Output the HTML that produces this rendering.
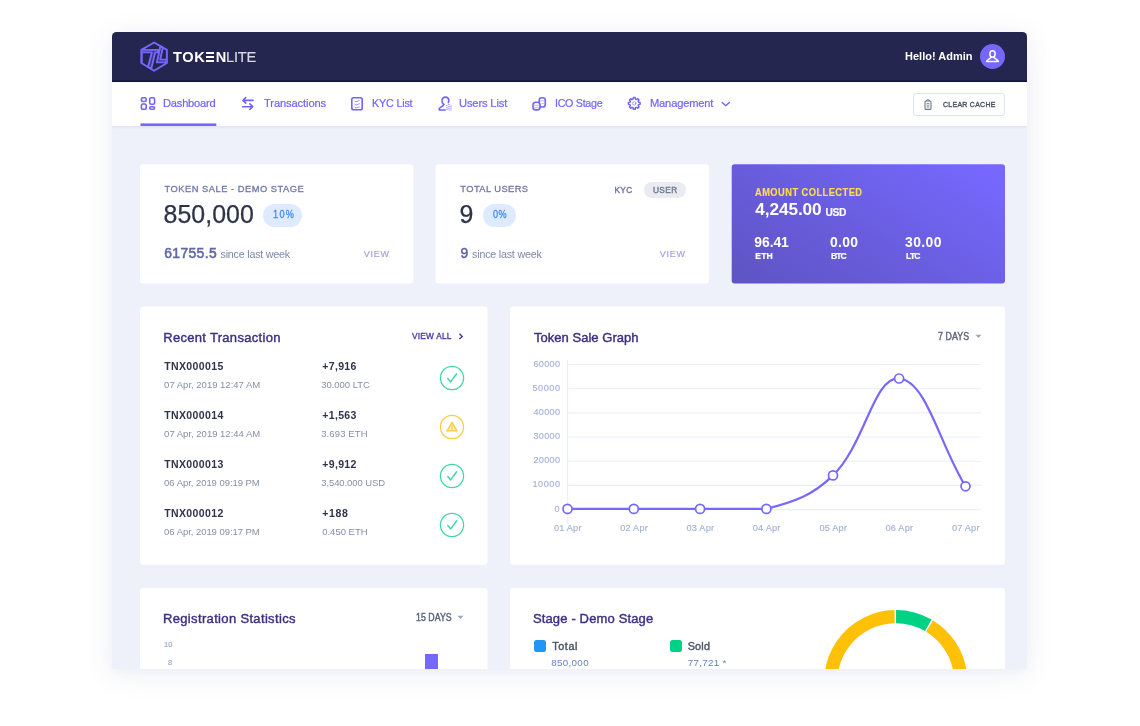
<!DOCTYPE html>
<html lang="en"><head><meta charset="utf-8"><title>TokenLite Admin Dashboard</title>
<style>
html,body{margin:0;padding:0;}
body{width:1140px;height:726px;background:#fff;position:relative;overflow:hidden;font-family:"Liberation Sans", Arial, sans-serif;}
.app{position:absolute;left:112px;top:32px;width:914.5px;height:637px;border-radius:4.5px 4.5px 0 0;background:#eef1fa;overflow:hidden;}
.shadow{position:absolute;left:112px;top:32px;width:914.5px;height:637px;border-radius:4px 4px 0 0;box-shadow:0 5px 28px rgba(70,80,150,.10),0 1px 8px rgba(70,80,150,.03);}
.in{filter:blur(.35px);position:absolute;left:-112px;top:-32px;width:1140px;height:726px;}
.t{position:absolute;white-space:nowrap;}
.e3{position:relative;color:transparent;}
.e3:after{content:"";position:absolute;left:1.1px;top:2.6px;width:7.6px;height:10.5px;background:linear-gradient(to bottom,#fff 0,#fff 2.3px,transparent 2.3px,transparent 4.1px,#fff 4.1px,#fff 6.4px,transparent 6.4px,transparent 8.2px,#fff 8.2px,#fff 10.5px);}
</style></head>
<body>
<div class="shadow"></div>
<div class="app"><div class="in">
<header><div style="position:absolute;left:112px;top:32px;width:915px;height:50px;background:linear-gradient(to bottom,#25264f 48px,#1c1d47 48px,#1c1d47 49px,#121338 49px);"></div><svg style="position:absolute;left:138px;top:39px" width="32" height="35" viewBox="138 39 32 35" fill="none" stroke="#7668fe" stroke-width="1.9" stroke-linejoin="round">
<path d="M154.1 42.5 L166.9 49.8 L166.9 63 L154.1 70.7 L141.3 63 L141.3 49.8 Z"/><path d="M142.6 52.3 V62.6" stroke-width="1" opacity=".7"/>
<path d="M141.6 49.9 H158.4 L157.8 52.4 H155.2 L151.3 68.6 L148 66.8 L151.9 52.4 H141.6" fill="rgba(118,104,254,.28)"/>
<path d="M160.4 46.2 L162.9 47.6 L160.2 59.6 H166.6 L166.2 62.4 H156.8 Z" fill="rgba(118,104,254,.2)"/>
</svg><span class="t" style="left:173.0px;top:48px;font-size:14.6px;line-height:18px;font-weight:700;letter-spacing:0.60px;color:#fff;">TOK<span class="e3">E</span>N</span><span class="t" style="left:226.0px;top:48px;font-size:14.6px;line-height:18px;font-weight:400;letter-spacing:-0.20px;-webkit-text-stroke:0.2px;color:#d6d8e4;">LITE</span><span class="t" style="left:905.0px;top:49px;font-size:11.8px;line-height:15px;font-weight:700;letter-spacing:0.02px;transform:scaleX(0.93);transform-origin:0 0;color:#fff;">Hello! Admin</span><div style="position:absolute;left:979.6px;top:43.9px;width:25.4px;height:25.4px;background:#7668fe;border-radius:50%;"></div><svg style="position:absolute;left:985px;top:49px" width="15" height="15" viewBox="0 0 15 15" fill="none" stroke="#fff" stroke-width="1.5" stroke-linecap="round" stroke-linejoin="round"><ellipse cx="7.5" cy="5" rx="2.6" ry="3.2"/><path d="M1.6 12.4 C2.6 10.4 4.6 9.6 6 8.6 M13.4 12.4 C12.4 10.4 10.4 9.6 9 8.6 M1.6 12.4 H13.4"/></svg></header>
<nav><div style="position:absolute;left:112px;top:82px;width:915px;height:44px;background:#fff;box-shadow:0 1px 2.5px rgba(90,100,150,.13);"></div><span class="t" style="left:163.1px;top:96px;font-size:11.6px;line-height:14px;font-weight:400;letter-spacing:-0.23px;-webkit-text-stroke:0.22px;transform:scaleX(0.96);transform-origin:0 0;color:#7163fb;">Dashboard</span><span class="t" style="left:263.6px;top:96px;font-size:11.6px;line-height:14px;font-weight:400;letter-spacing:-0.11px;-webkit-text-stroke:0.22px;transform:scaleX(0.96);transform-origin:0 0;color:#7163fb;">Transactions</span><span class="t" style="left:371.8px;top:96px;font-size:11.6px;line-height:14px;font-weight:400;letter-spacing:-0.21px;-webkit-text-stroke:0.22px;transform:scaleX(0.93);transform-origin:0 0;color:#7163fb;">KYC List</span><span class="t" style="left:459.4px;top:96px;font-size:11.6px;line-height:14px;font-weight:400;letter-spacing:-0.14px;-webkit-text-stroke:0.22px;transform:scaleX(0.96);transform-origin:0 0;color:#7163fb;">Users List</span><span class="t" style="left:554.7px;top:96px;font-size:11.6px;line-height:14px;font-weight:400;letter-spacing:-0.30px;-webkit-text-stroke:0.22px;transform:scaleX(0.92);transform-origin:0 0;color:#7163fb;">ICO Stage</span><span class="t" style="left:649.5px;top:96px;font-size:11.6px;line-height:14px;font-weight:400;letter-spacing:-0.18px;-webkit-text-stroke:0.22px;transform:scaleX(0.96);transform-origin:0 0;color:#7163fb;">Management</span><svg style="position:absolute;left:139px;top:95px" width="18" height="17" viewBox="139 95 18 17" fill="none" stroke="#7163fb" stroke-linecap="round" stroke-linejoin="round" stroke-width="1.6">
<rect x="141.4" y="97.7" width="4.8" height="3.8" rx="1.4"/><rect x="149.7" y="97.7" width="4.9" height="6.5" rx="1.4"/>
<rect x="141.4" y="104" width="4.8" height="5.3" rx="1.4"/><rect x="149.7" y="106.7" width="4.9" height="2.6" rx="1.2"/></svg><svg style="position:absolute;left:240px;top:95px" width="16" height="17" viewBox="240 95 16 17" fill="none" stroke="#7163fb" stroke-linecap="round" stroke-linejoin="round" stroke-width="1.6">
<path d="M253 100.4 H243 M245.8 97.6 L242.9 100.4 L245.8 103.2"/><path d="M242.6 106.7 H252.6 M249.8 103.9 L252.7 106.7 L249.8 109.5"/></svg><svg style="position:absolute;left:349px;top:95px" width="16" height="17" viewBox="349 95 16 17" fill="none" stroke="#7163fb" stroke-linecap="round" stroke-linejoin="round" stroke-width="1.6">
<rect x="351.8" y="97.7" width="10.4" height="12" rx="1.8"/><path d="M355 101.2 L356 101.8 L359.2 100.6 M355 104.4 L356 105 L359.2 103.8 M355 107.4 L356 108 L359.2 106.8" stroke-width="0.9" opacity=".8"/></svg><svg style="position:absolute;left:436px;top:94px" width="18" height="19" viewBox="436 94 18 19" fill="none" stroke="#7163fb" stroke-linecap="round" stroke-linejoin="round" stroke-width="1.6">
<path d="M443.8 104.4 C442.3 103.4 441.8 101.8 442 100.2 C442.3 98.2 443.7 97.1 445.5 97.1 C447.3 97.1 448.6 98.3 448.8 100.1 C448.9 101.1 448.7 101.9 448.3 102.6"/>
<path d="M443.8 104.4 C443 106.4 440.4 107 439.3 108.6 C438.9 109.4 439.2 110 440 110 H445.2"/>
<path d="M447 105 V110.6 M449 104 V110.6 M451 105.6 V110.6" stroke-width="1.3" stroke-dasharray="1.1 0.8" stroke-linecap="butt" opacity=".75"/></svg><svg style="position:absolute;left:530px;top:94px" width="18" height="19" viewBox="530 94 18 19" fill="none" stroke="#7163fb" stroke-linecap="round" stroke-linejoin="round" stroke-width="1.6">
<rect x="539.2" y="97.7" width="6.1" height="9.3" rx="2.6" fill="#fff"/><path d="M540.4 100.9 H544.2 M541.6 103.6 H544.2" stroke-width="0.8" opacity=".55"/>
<rect x="533" y="102.3" width="7" height="7.6" rx="2.7" fill="#fff"/><path d="M534.4 105.4 H538.6 M534.4 107.6 H538.6" stroke-width="0.8" opacity=".55"/></svg><svg style="position:absolute;left:626px;top:95px" width="17" height="17" viewBox="626 95 17 17" fill="none" stroke="#7163fb" stroke-linecap="round" stroke-linejoin="round" stroke-width="1.5">
<path d="M633.33 97.62 L635.17 97.62 L635.44 99.11 L636.48 99.54 L637.72 98.68 L639.02 99.98 L638.16 101.22 L638.59 102.26 L640.08 102.53 L640.08 104.37 L638.59 104.64 L638.16 105.68 L639.02 106.92 L637.72 108.22 L636.48 107.36 L635.44 107.79 L635.17 109.28 L633.33 109.28 L633.06 107.79 L632.02 107.36 L630.78 108.22 L629.48 106.92 L630.34 105.68 L629.91 104.64 L628.42 104.37 L628.42 102.53 L629.91 102.26 L630.34 101.22 L629.48 99.98 L630.78 98.68 L632.02 99.54 L633.06 99.11 Z"/><circle cx="634.25" cy="103.45" r="1.7" stroke-width="0.9" opacity=".7"/></svg><svg style="position:absolute;left:720px;top:100px" width="12" height="8" viewBox="720 100 12 8" fill="none" stroke="#7163fb" stroke-linecap="round" stroke-linejoin="round" stroke-width="1.35"><path d="M722.2 102.4 L725.8 105.8 L729.4 102.4"/></svg><div style="position:absolute;left:912.6px;top:93px;width:92px;height:23px;border:1px solid #dbe4f3;border-radius:3px;box-sizing:border-box;background:#fff;"></div><svg style="position:absolute;left:922px;top:98px" width="12" height="13" viewBox="922 98 12 13" fill="none" stroke="#6d7687" stroke-width="1.1" stroke-linejoin="round"><rect x="925" y="101" width="6" height="8.4" rx="1"/><path d="M926.6 101 V99.9 H929.4 V101 M926.6 103.4 H929.4 M926.6 105.2 H929.4 M926.6 107 H929.4" stroke-width="0.9"/></svg><span class="t" style="left:942.5px;top:100px;font-size:8.1px;line-height:10px;font-weight:400;letter-spacing:0.33px;-webkit-text-stroke:0.4px;transform:scaleX(0.86);transform-origin:0 0;color:#495463;">CLEAR CACHE</span></nav>
<main>
<svg style="position:absolute;left:0;top:0" width="1140" height="726" viewBox="0 0 1140 726"><defs><linearGradient id="ag" x1="0" y1=".85" x2="1" y2=".15"><stop offset="0" stop-color="#6055c6"/><stop offset=".5" stop-color="#6a5ee1"/><stop offset="1" stop-color="#7668fe"/></linearGradient></defs><rect x="140" y="164.3" width="273.50" height="119.10" rx="3" fill="#fff"/><rect x="435.6" y="164.3" width="273.60" height="119.10" rx="3" fill="#fff"/><rect x="731.7" y="164.3" width="273.30" height="119.10" rx="3" fill="url(#ag)"/><rect x="140" y="306.5" width="347.50" height="258.30" rx="3" fill="#fff"/><rect x="510" y="306.5" width="495.00" height="258.30" rx="3" fill="#fff"/><rect x="140" y="587.9" width="347.50" height="112.10" rx="3" fill="#fff"/><rect x="510" y="587.9" width="495.00" height="112.10" rx="3" fill="#fff"/><rect x="140.5" y="123.4" width="75.8" height="2.6" fill="#7668fe"/></svg>
<section><span class="t" style="left:164.6px;top:183px;font-size:9.3px;line-height:12px;font-weight:400;letter-spacing:0.51px;-webkit-text-stroke:0.3px;color:#6e78a5;">TOKEN SALE - DEMO STAGE</span><span class="t" style="left:163.6px;top:199px;font-size:24.9px;line-height:31px;font-weight:400;letter-spacing:0.03px;-webkit-text-stroke:0.25px;color:#2c3447;">850,000</span><div style="position:absolute;left:263.3px;top:203.7px;width:39.1px;height:23px;background:#deebff;border-radius:12px;"></div><span class="t" style="left:272.8px;top:208px;font-size:10.4px;line-height:13px;font-weight:400;letter-spacing:1.48px;-webkit-text-stroke:0.3px;transform:scaleX(0.88);transform-origin:0 0;color:#438cf4;">10%</span><span class="t" style="left:164.2px;top:245px;font-size:13.9px;line-height:17px;font-weight:400;letter-spacing:0.37px;-webkit-text-stroke:0.55px;color:#5f69a0;">61755.5</span><span class="t" style="left:220.5px;top:248px;font-size:10.7px;line-height:13px;font-weight:400;letter-spacing:-0.20px;color:#7d87a8;">since last week</span><span class="t" style="left:363.8px;top:249px;font-size:9.0px;line-height:11px;font-weight:400;letter-spacing:0.73px;-webkit-text-stroke:0.15px;color:#a69cdf;">VIEW</span><span class="t" style="left:460.3px;top:183px;font-size:9.3px;line-height:12px;font-weight:400;letter-spacing:0.44px;-webkit-text-stroke:0.3px;color:#6e78a5;">TOTAL USERS</span><span class="t" style="left:614.4px;top:185px;font-size:8.3px;line-height:10px;font-weight:400;letter-spacing:0.40px;-webkit-text-stroke:0.4px;color:#6e78a5;">KYC</span><div style="position:absolute;left:644px;top:181.6px;width:41.5px;height:16px;background:#e9ebf1;border-radius:9px;"></div><span class="t" style="left:652.9px;top:185px;font-size:8.3px;line-height:10px;font-weight:400;letter-spacing:0.47px;-webkit-text-stroke:0.4px;color:#6f7b90;">USER</span><span class="t" style="left:459.6px;top:199px;font-size:24.9px;line-height:31px;font-weight:400;-webkit-text-stroke:0.25px;color:#2c3447;">9</span><div style="position:absolute;left:483px;top:203.7px;width:32.6px;height:23px;background:#deebff;border-radius:12px;"></div><span class="t" style="left:492.5px;top:208px;font-size:10.4px;line-height:13px;font-weight:400;letter-spacing:0.46px;-webkit-text-stroke:0.3px;transform:scaleX(0.88);transform-origin:0 0;color:#438cf4;">0%</span><span class="t" style="left:460.4px;top:245px;font-size:13.9px;line-height:17px;font-weight:400;-webkit-text-stroke:0.55px;color:#5f69a0;">9</span><span class="t" style="left:472.1px;top:248px;font-size:10.7px;line-height:13px;font-weight:400;letter-spacing:-0.20px;color:#7d87a8;">since last week</span><span class="t" style="left:659.7px;top:249px;font-size:9.0px;line-height:11px;font-weight:400;letter-spacing:0.73px;-webkit-text-stroke:0.15px;color:#a69cdf;">VIEW</span><span class="t" style="left:755.3px;top:186px;font-size:10.3px;line-height:13px;font-weight:700;letter-spacing:0.53px;-webkit-text-stroke:0.2px;transform:scaleX(0.9);transform-origin:0 0;color:#ffdc4e;">AMOUNT COLLECTED</span><span class="t" style="left:755.3px;top:198px;font-size:17.2px;line-height:22px;font-weight:700;letter-spacing:-0.08px;color:#fff;">4,245.00</span><span class="t" style="left:825.4px;top:206px;font-size:10.2px;line-height:13px;font-weight:700;letter-spacing:-0.30px;-webkit-text-stroke:0.2px;color:#fff;">USD</span><span class="t" style="left:754.3px;top:234px;font-size:13.9px;line-height:17px;font-weight:700;letter-spacing:-0.06px;color:#fff;">96.41</span><span class="t" style="left:755.3px;top:251px;font-size:8.6px;line-height:11px;font-weight:700;letter-spacing:0.10px;-webkit-text-stroke:0.2px;color:#fff;">ETH</span><span class="t" style="left:830.0px;top:234px;font-size:13.9px;line-height:17px;font-weight:700;letter-spacing:0.33px;color:#fff;">0.00</span><span class="t" style="left:831.0px;top:251px;font-size:8.6px;line-height:11px;font-weight:700;letter-spacing:-1.00px;-webkit-text-stroke:0.2px;color:#fff;">BTC</span><span class="t" style="left:905.1px;top:234px;font-size:13.9px;line-height:17px;font-weight:700;letter-spacing:0.39px;color:#fff;">30.00</span><span class="t" style="left:906.1px;top:251px;font-size:8.6px;line-height:11px;font-weight:700;letter-spacing:-0.80px;-webkit-text-stroke:0.2px;color:#fff;">LTC</span></section>
<section><span class="t" style="left:163.2px;top:330px;font-size:13px;line-height:16px;font-weight:400;letter-spacing:0.31px;-webkit-text-stroke:0.42px;color:#3a3182;">Recent Transaction</span><span class="t" style="left:412.0px;top:330px;font-size:9.2px;line-height:12px;font-weight:400;letter-spacing:0.28px;-webkit-text-stroke:0.4px;transform:scaleX(0.9);transform-origin:0 0;color:#4a3fa8;">VIEW ALL</span><svg style="position:absolute;left:457px;top:332px" width="8" height="9" viewBox="457 332 8 9" fill="none" stroke="#4338a2" stroke-width="1.4"><path d="M459.4 333.8 L462.2 336.4 L459.4 339"/></svg><span class="t" style="left:164.2px;top:360px;font-size:10.5px;line-height:13px;font-weight:700;letter-spacing:0.38px;color:#2d344b;">TNX000015</span><span class="t" style="left:164.1px;top:379px;font-size:9.5px;line-height:12px;font-weight:400;color:#8291a5;">07 Apr, 2019 12:47 AM</span><span class="t" style="left:322.2px;top:360px;font-size:10.5px;line-height:13px;font-weight:700;letter-spacing:0.36px;color:#2d344b;">+7,916</span><span class="t" style="left:321.2px;top:379px;font-size:9.5px;line-height:12px;font-weight:400;letter-spacing:-0.03px;color:#8291a5;">30.000 LTC</span><svg style="position:absolute;left:438.75px;top:364.8px" width="26" height="26" viewBox="-13 -13 26 26" fill="none" stroke="#3ed8a4" stroke-width="1.25" stroke-linecap="round" stroke-linejoin="round"><circle r="11.6"/><path d="M-4.2 0.6 L-1.3 3.9 L4.6 -4.2" stroke-width="1.5"/></svg><span class="t" style="left:164.2px;top:409px;font-size:10.5px;line-height:13px;font-weight:700;letter-spacing:0.38px;color:#2d344b;">TNX000014</span><span class="t" style="left:164.1px;top:428px;font-size:9.5px;line-height:12px;font-weight:400;color:#8291a5;">07 Apr, 2019 12:44 AM</span><span class="t" style="left:322.2px;top:409px;font-size:10.5px;line-height:13px;font-weight:700;letter-spacing:0.36px;color:#2d344b;">+1,563</span><span class="t" style="left:321.2px;top:428px;font-size:9.5px;line-height:12px;font-weight:400;letter-spacing:0.12px;color:#8291a5;">3.693 ETH</span><svg style="position:absolute;left:438.75px;top:413.8px" width="26" height="26" viewBox="-13 -13 26 26" fill="none" stroke="#ffc93a" stroke-width="1.2" stroke-linecap="round" stroke-linejoin="round"><circle r="11.6"/><path d="M0 -4.6 L5 3.9 H-5 Z" stroke-width="1.3" fill="rgba(255,201,58,.25)"/><path d="M0 -1.6 V1.4 M0 2.6 V2.7" stroke-width="1.2"/></svg><span class="t" style="left:164.2px;top:458px;font-size:10.5px;line-height:13px;font-weight:700;letter-spacing:0.38px;color:#2d344b;">TNX000013</span><span class="t" style="left:164.1px;top:477px;font-size:9.5px;line-height:12px;font-weight:400;letter-spacing:-0.05px;color:#8291a5;">06 Apr, 2019 09:19 PM</span><span class="t" style="left:322.2px;top:458px;font-size:10.5px;line-height:13px;font-weight:700;letter-spacing:0.36px;color:#2d344b;">+9,912</span><span class="t" style="left:321.2px;top:477px;font-size:9.5px;line-height:12px;font-weight:400;letter-spacing:-0.08px;color:#8291a5;">3,540.000 USD</span><svg style="position:absolute;left:438.75px;top:462.8px" width="26" height="26" viewBox="-13 -13 26 26" fill="none" stroke="#3ed8a4" stroke-width="1.25" stroke-linecap="round" stroke-linejoin="round"><circle r="11.6"/><path d="M-4.2 0.6 L-1.3 3.9 L4.6 -4.2" stroke-width="1.5"/></svg><span class="t" style="left:164.2px;top:507px;font-size:10.5px;line-height:13px;font-weight:700;letter-spacing:0.38px;color:#2d344b;">TNX000012</span><span class="t" style="left:164.1px;top:526px;font-size:9.5px;line-height:12px;font-weight:400;letter-spacing:-0.05px;color:#8291a5;">06 Apr, 2019 09:17 PM</span><span class="t" style="left:322.2px;top:507px;font-size:10.5px;line-height:13px;font-weight:700;letter-spacing:0.67px;color:#2d344b;">+188</span><span class="t" style="left:322.2px;top:526px;font-size:9.5px;line-height:12px;font-weight:400;color:#8291a5;">0.450 ETH</span><svg style="position:absolute;left:438.75px;top:511.79999999999995px" width="26" height="26" viewBox="-13 -13 26 26" fill="none" stroke="#3ed8a4" stroke-width="1.25" stroke-linecap="round" stroke-linejoin="round"><circle r="11.6"/><path d="M-4.2 0.6 L-1.3 3.9 L4.6 -4.2" stroke-width="1.5"/></svg><span class="t" style="left:533.9px;top:330px;font-size:13px;line-height:16px;font-weight:400;letter-spacing:0.04px;-webkit-text-stroke:0.42px;color:#3a3182;">Token Sale Graph</span><span class="t" style="left:938.2px;top:331px;font-size:10px;line-height:12px;font-weight:400;letter-spacing:0.13px;-webkit-text-stroke:0.4px;transform:scaleX(0.88);transform-origin:0 0;color:#58637a;">7 DAYS</span><svg style="position:absolute;left:974px;top:333px" width="9" height="7" viewBox="974 333 9 7"><path d="M975.4 334.8 H981.4 L978.4 338 Z" fill="#9aa6bd"/></svg><svg style="position:absolute;left:510px;top:350px" width="495" height="200" viewBox="510 350 495 200"><path d="M567.6 509.60 H981" stroke="#e9effa" stroke-width="1.1"/><path d="M567.6 485.42 H981" stroke="#e9effa" stroke-width="1.1"/><path d="M567.6 461.24 H981" stroke="#e9effa" stroke-width="1.1"/><path d="M567.6 437.06 H981" stroke="#e9effa" stroke-width="1.1"/><path d="M567.6 412.88 H981" stroke="#e9effa" stroke-width="1.1"/><path d="M567.6 388.70 H981" stroke="#e9effa" stroke-width="1.1"/><path d="M567.6 364.52 H981" stroke="#e9effa" stroke-width="1.1"/><path d="M567.6 360 V523.9" stroke="#e9effa" stroke-width="1.1"/><path d="M567.5 508.9 C594.0 508.9 607.3 508.9 633.8 508.9 C660.3 508.9 673.6 508.9 700.1 508.9 C726.6 508.9 741.4 508.9 766.4 508.9 C794.5 501.8 812.4 495.7 833.0 475.4 C865.5 443.5 873.6 376.4 899.1 378.5 C926.6 380.8 938.9 443.2 965.5 486.3" fill="none" stroke="#7668fe" stroke-width="2.2" stroke-linecap="round"/><circle cx="567.5" cy="508.9" r="4.5" fill="#fff" stroke="#7668fe" stroke-width="1.7"/><circle cx="633.8" cy="508.9" r="4.5" fill="#fff" stroke="#7668fe" stroke-width="1.7"/><circle cx="700.1" cy="508.9" r="4.5" fill="#fff" stroke="#7668fe" stroke-width="1.7"/><circle cx="766.4" cy="508.9" r="4.5" fill="#fff" stroke="#7668fe" stroke-width="1.7"/><circle cx="833.0" cy="475.4" r="4.5" fill="#fff" stroke="#7668fe" stroke-width="1.7"/><circle cx="899.1" cy="378.5" r="4.5" fill="#fff" stroke="#7668fe" stroke-width="1.7"/><circle cx="965.5" cy="486.3" r="4.5" fill="#fff" stroke="#7668fe" stroke-width="1.7"/></svg><span class="t" style="left:554.5px;top:504px;font-size:9.1px;line-height:11px;font-weight:400;-webkit-text-stroke:0.15px;color:#a3b2d6;">0</span><span class="t" style="left:532.5px;top:479px;font-size:9.1px;line-height:11px;font-weight:400;letter-spacing:0.55px;-webkit-text-stroke:0.15px;color:#a3b2d6;">10000</span><span class="t" style="left:533.5px;top:455px;font-size:9.1px;line-height:11px;font-weight:400;letter-spacing:0.30px;-webkit-text-stroke:0.15px;color:#a3b2d6;">20000</span><span class="t" style="left:533.5px;top:431px;font-size:9.1px;line-height:11px;font-weight:400;letter-spacing:0.30px;-webkit-text-stroke:0.15px;color:#a3b2d6;">30000</span><span class="t" style="left:533.5px;top:407px;font-size:9.1px;line-height:11px;font-weight:400;letter-spacing:0.30px;-webkit-text-stroke:0.15px;color:#a3b2d6;">40000</span><span class="t" style="left:532.5px;top:383px;font-size:9.1px;line-height:11px;font-weight:400;letter-spacing:0.55px;-webkit-text-stroke:0.15px;color:#a3b2d6;">50000</span><span class="t" style="left:533.5px;top:359px;font-size:9.1px;line-height:11px;font-weight:400;letter-spacing:0.30px;-webkit-text-stroke:0.15px;color:#a3b2d6;">60000</span><span class="t" style="left:553.9px;top:522px;font-size:9.2px;line-height:12px;font-weight:400;letter-spacing:0.20px;-webkit-text-stroke:0.15px;color:#a3b2d6;">01 Apr</span><span class="t" style="left:620.2px;top:522px;font-size:9.2px;line-height:12px;font-weight:400;letter-spacing:0.20px;-webkit-text-stroke:0.15px;color:#a3b2d6;">02 Apr</span><span class="t" style="left:686.5px;top:522px;font-size:9.2px;line-height:12px;font-weight:400;letter-spacing:0.20px;-webkit-text-stroke:0.15px;color:#a3b2d6;">03 Apr</span><span class="t" style="left:752.8px;top:522px;font-size:9.2px;line-height:12px;font-weight:400;letter-spacing:0.20px;-webkit-text-stroke:0.15px;color:#a3b2d6;">04 Apr</span><span class="t" style="left:819.4px;top:522px;font-size:9.2px;line-height:12px;font-weight:400;letter-spacing:0.20px;-webkit-text-stroke:0.15px;color:#a3b2d6;">05 Apr</span><span class="t" style="left:885.5px;top:522px;font-size:9.2px;line-height:12px;font-weight:400;letter-spacing:0.20px;-webkit-text-stroke:0.15px;color:#a3b2d6;">06 Apr</span><span class="t" style="left:951.9px;top:522px;font-size:9.2px;line-height:12px;font-weight:400;letter-spacing:0.20px;-webkit-text-stroke:0.15px;color:#a3b2d6;">07 Apr</span></section>
<section><span class="t" style="left:163.0px;top:611px;font-size:13px;line-height:16px;font-weight:400;letter-spacing:0.34px;-webkit-text-stroke:0.42px;color:#3a3182;">Registration Statistics</span><span class="t" style="left:415.7px;top:612px;font-size:10px;line-height:12px;font-weight:400;letter-spacing:0.03px;-webkit-text-stroke:0.4px;transform:scaleX(0.88);transform-origin:0 0;color:#58637a;">15 DAYS</span><svg style="position:absolute;left:456px;top:614px" width="9" height="7" viewBox="456 614 9 7"><path d="M457.4 615.8 H463.4 L460.4 619 Z" fill="#9aa6bd"/></svg><span class="t" style="left:164.0px;top:640px;font-size:7.5px;line-height:9px;font-weight:400;-webkit-text-stroke:0.15px;color:#97a6cf;">10</span><span class="t" style="left:168.0px;top:658px;font-size:7.5px;line-height:9px;font-weight:400;-webkit-text-stroke:0.15px;color:#97a6cf;">8</span><div style="position:absolute;left:424.8px;top:653.5px;width:13.7px;height:40px;background:#7668fe;"></div><span class="t" style="left:532.9px;top:611px;font-size:13px;line-height:16px;font-weight:400;letter-spacing:0.15px;-webkit-text-stroke:0.42px;color:#3a3182;">Stage - Demo Stage</span><div style="position:absolute;left:533.7px;top:640.2px;width:12.3px;height:12.3px;background:#2196f3;border-radius:2.5px;"></div><div style="position:absolute;left:670.1px;top:640.2px;width:12.3px;height:12.3px;background:#00d285;border-radius:2.5px;"></div><span class="t" style="left:552.2px;top:639px;font-size:10.8px;line-height:14px;font-weight:400;letter-spacing:0.60px;-webkit-text-stroke:0.4px;color:#495463;">Total</span><span class="t" style="left:687.7px;top:639px;font-size:10.8px;line-height:14px;font-weight:400;letter-spacing:0.20px;-webkit-text-stroke:0.4px;color:#495463;">Sold</span><span class="t" style="left:551.2px;top:657px;font-size:9.8px;line-height:12px;font-weight:400;letter-spacing:0.33px;color:#6783b8;">850,000</span><span class="t" style="left:687.7px;top:657px;font-size:9.8px;line-height:12px;font-weight:400;letter-spacing:0.29px;color:#6783b8;">77,721 *</span><svg style="position:absolute;left:815px;top:600px" width="165" height="110" viewBox="815 600 165 110"><path d="M896.03 616.60 A65.0 65.0 0 0 1 928.30 625.31" fill="none" stroke="#00d285" stroke-width="13.199999999999996"/><path d="M929.57 626.06 A65.0 65.0 0 1 1 894.55 616.61" fill="none" stroke="#ffc107" stroke-width="13.199999999999996"/></svg></section>
</main>
</div></div>
</body></html>
